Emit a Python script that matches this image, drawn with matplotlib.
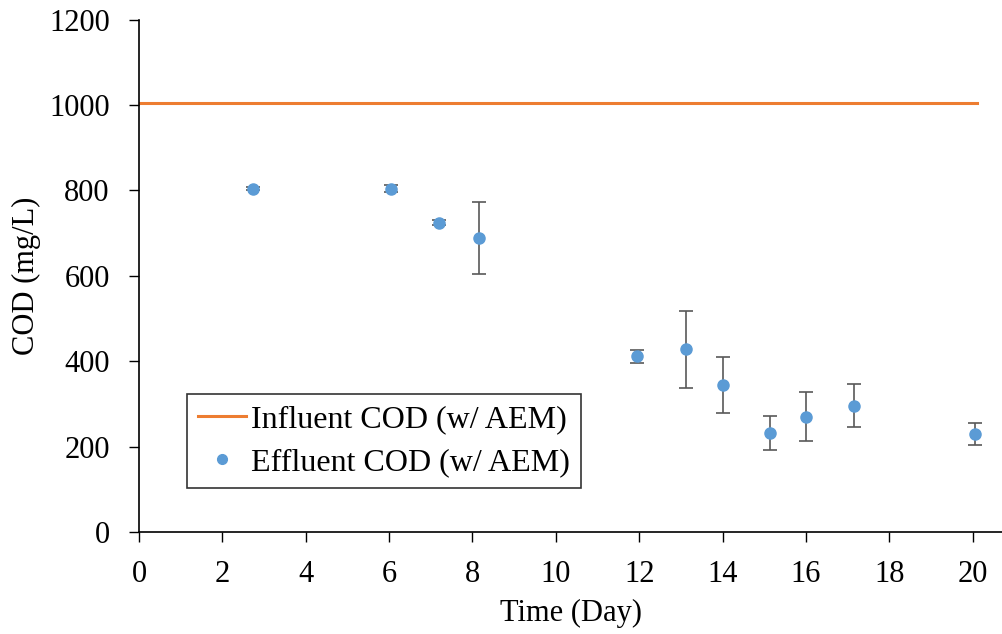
import numpy as np
from matplotlib import pyplot as plt
from matplotlib.lines import Line2D

plt.rcParams['font.family'] = ['Liberation Serif', 'DejaVu Serif']

# influent COD (constant feed)
influent_day = [0, 20.1]
influent_cod = [1004, 1004]

# effluent COD, mean and error
day = [2.73, 6.04, 7.2, 8.16, 11.95, 13.13, 14.0, 15.15, 16.01, 17.16, 20.07]
cod = [804, 804, 724, 688, 411, 428, 344, 231, 270, 296, 230]
err = [3, 8, 6, 84, 16, 90, 66, 40, 58, 50, 26]

orange = '#ED7D31'
blue = '#5B9BD5'
fs = 22

fig = plt.figure(figsize=(10.03, 6.34), dpi=100)
ax = fig.add_axes([0.1386, 0.161, 0.8614, 0.808])

ax.plot(influent_day, influent_cod, color=orange, lw=2.2)
ax.errorbar(day, cod, yerr=err, fmt='o', color=blue, ms=8,
            ecolor='#595959', elinewidth=1.2, capsize=5, capthick=1.2)

ax.set_xlim(0, 20.73)
ax.set_ylim(0, 1200)
ax.set_xticks(np.arange(0, 21, 2))
ax.set_yticks(np.arange(0, 1201, 200))
ax.spines['top'].set_visible(False)
ax.spines['right'].set_visible(False)
for s in ('left', 'bottom'):
    ax.spines[s].set_linewidth(1.2)
ax.tick_params(direction='out', length=7, width=1.0, labelsize=fs)
ax.tick_params(axis='x', pad=13)
ax.tick_params(axis='y', pad=14)

ax.set_xlabel('Time (Day)', fontsize=fs, labelpad=7)
ax.set_ylabel('COD (mg/L)', fontsize=fs, labelpad=6)

handles = [Line2D([], [], color=orange, lw=2.2),
           Line2D([], [], ls='none', marker='o', color=blue, ms=7)]
labels = ['Influent COD (w/ AEM)', 'Effluent COD (w/ AEM)']
leg = ax.legend(handles, labels, loc='upper left', bbox_to_anchor=(0.0556, 0.269),
                fontsize=23, frameon=True, fancybox=False, edgecolor='black',
                handlelength=1.5, handletextpad=0.15, borderpad=0.35,
                labelspacing=0.4, borderaxespad=0)
leg.get_frame().set_linewidth(1.2)

fig.savefig('out.png', dpi=100)
